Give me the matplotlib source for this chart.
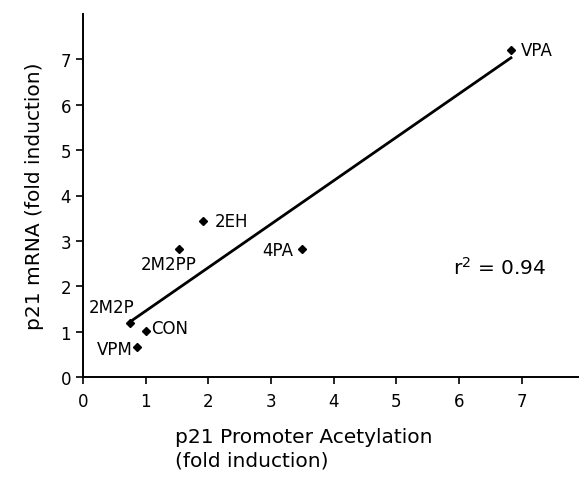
import numpy as np
import matplotlib
matplotlib.use("Agg")
import matplotlib.pyplot as plt

labels = ["VPA", "2EH", "2M2PP", "4PA", "2M2P", "CON", "VPM"]
acetylation = [6.83, 1.91, 1.54, 3.50, 0.75, 1.00, 0.86]
mrna = [7.20, 3.44, 2.83, 2.83, 1.19, 1.02, 0.66]
x_ticks = [0, 1, 2, 3, 4, 5, 6, 7]
y_ticks = [0, 1, 2, 3, 4, 5, 6, 7]

# label offsets in pixels (dx, dy, ha, va)
offsets = {
    "VPA": (10, 0, "left", "center"),
    "2EH": (12, 0, "left", "center"),
    "2M2PP": (-11, -15, "center", "center"),
    "4PA": (-9, -1, "right", "center"),
    "2M2P": (5, 16, "right", "center"),
    "CON": (5, 3, "left", "center"),
    "VPM": (-4, -2, "right", "center"),
}

plt.rcParams['font.family'] = ['DejaVu Sans']
fig = plt.figure(figsize=(5.79, 4.81), dpi=100)
ax = fig.add_axes([83/579, 1 - 378/481, (578 - 83)/579, (378 - 15)/481])

ax.plot(acetylation, mrna, linestyle="none", marker="D", markersize=4.5, color="black")

coef = np.polyfit(acetylation, mrna, 1)
xs = np.array([min(acetylation), max(acetylation)])
ax.plot(xs, np.polyval(coef, xs), color="black", linewidth=2.0)

for lab, x, y in zip(labels, acetylation, mrna):
    dx, dy, ha, va = offsets[lab]
    ax.annotate(lab, (x, y), xytext=(dx, dy), textcoords="offset pixels",
                ha=ha, va=va, fontsize=12)

ax.text(453/579, 1 - 268/481, "r$^2$ = 0.94", transform=fig.transFigure,
        ha="left", va="center", fontsize=14.5)

ax.set_xlim(0, 7.9)
ax.set_ylim(0, 8.0)
ax.set_xticks(x_ticks)
ax.set_yticks(y_ticks)
ax.tick_params(direction="out", length=5, width=1.2, labelsize=12)
ax.tick_params(axis="x", pad=6)
for s in ["top", "right"]:
    ax.spines[s].set_visible(False)
for s in ["left", "bottom"]:
    ax.spines[s].set_linewidth(1.4)

ax.set_ylabel("p21 mRNA (fold induction)", fontsize=14.5, labelpad=12)
fig.text(175/579, 1 - 449/481, "p21 Promoter Acetylation\n(fold induction)",
         ha="left", va="center", fontsize=14.5, linespacing=1.3)

fig.savefig("out.png", dpi=100)
